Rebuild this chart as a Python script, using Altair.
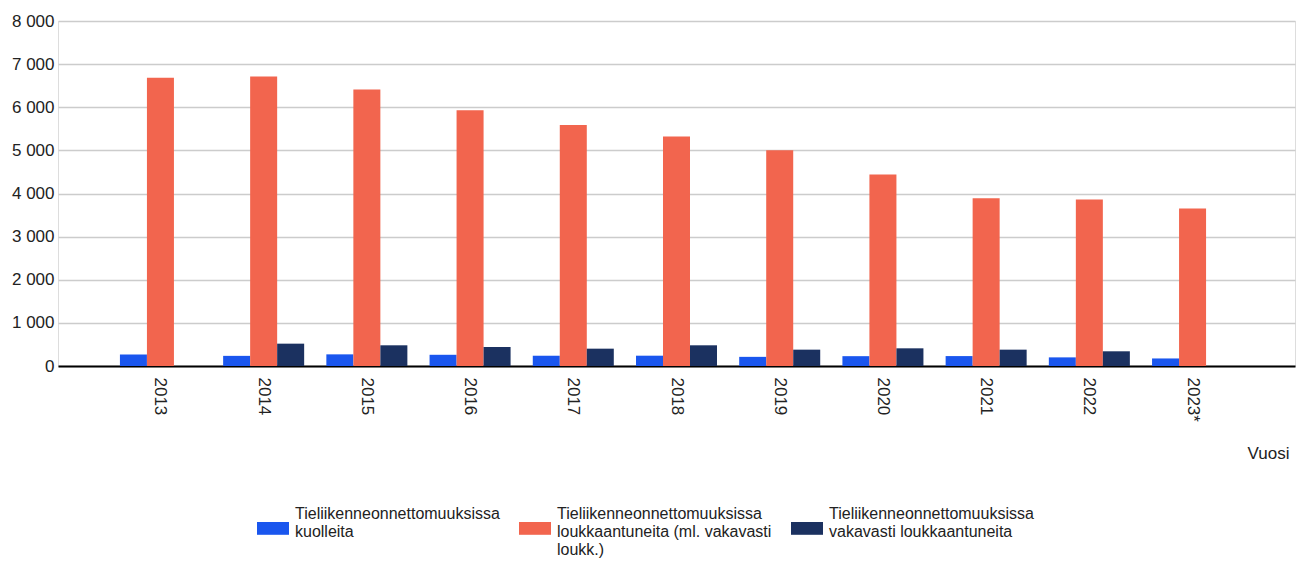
import altair as alt
import pandas as pd

years = ["2013", "2014", "2015", "2016", "2017", "2018", "2019", "2020", "2021", "2022", "2023*"]
killed = [265, 235, 270, 260, 238, 239, 212, 228, 230, 200, 175]
injured = [6683, 6713, 6411, 5932, 5591, 5320, 5004, 4439, 3890, 3858, 3650]
serious = [None, 518, 480, 441, 402, 480, 379, 410, 379, 341, None]

series = [
    "Tieliikenneonnettomuuksissa kuolleita",
    "Tieliikenneonnettomuuksissa loukkaantuneita (ml. vakavasti loukk.)",
    "Tieliikenneonnettomuuksissa vakavasti loukkaantuneita",
]
series_lines = [
    ["Tieliikenneonnettomuuksissa", "kuolleita", ""],
    ["Tieliikenneonnettomuuksissa", "loukkaantuneita (ml. vakavasti", "loukk.)"],
    ["Tieliikenneonnettomuuksissa", "vakavasti loukkaantuneita", ""],
]
colors = ["#1a56ee", "#f2654e", "#1b3160"]

rows = []
for i, yr in enumerate(years):
    for s, vals in zip(series, [killed, injured, serious]):
        if vals[i] is not None:
            rows.append({"year": yr, "series": s, "value": vals[i]})
df = pd.DataFrame(rows)

def arr(lines):
    return "[" + ",".join("'" + l + "'" for l in lines) + "]"

label_expr = (
    f"datum.label == '{series[0]}' ? {arr(series_lines[0])} : "
    f"datum.label == '{series[1]}' ? {arr(series_lines[1])} : {arr(series_lines[2])}"
)

FONT = "Arial, Liberation Sans, sans-serif"

chart = alt.Chart(df).mark_bar().encode(
    x=alt.X(
        "year:N",
        sort=years,
        scale=alt.Scale(domain=years, paddingInner=0.215, paddingOuter=0.6),
        axis=alt.Axis(
            title="Vuosi",
            labelAngle=90,
            labelAlign="left",
            labelBaseline="middle",
            labelPadding=11,
            ticks=False,
            domainColor="#000000",
            domainWidth=2,
            labelFontSize=17,
            labelColor="#222222",
            titleFontSize=17,
            titleFontWeight="normal",
            titleColor="#222222",
            titleX=1231,
            titleY=87,
            titleAlign="right",
            titleBaseline="middle",
            grid=False,
        ),
    ),
    xOffset=alt.XOffset("series:N", scale=alt.Scale(domain=series, paddingInner=0, paddingOuter=0)),
    y=alt.Y(
        "value:Q",
        scale=alt.Scale(domain=[0, 8000]),
        axis=alt.Axis(
            values=list(range(0, 8001, 1000)),
            labelExpr="replace(format(datum.value, ','), ',', ' ')",
            title=None,
            ticks=False,
            domain=False,
            gridColor="#cccccc",
            gridWidth=1.5,
            labelPadding=4,
            labelFontSize=17,
            labelColor="#222222",
        ),
    ),
    color=alt.Color(
        "series:N",
        scale=alt.Scale(domain=series, range=colors),
        legend=alt.Legend(
            title=None,
            orient="none",
            legendX=199,
            legendY=477,
            direction="horizontal",
            symbolType="M-1,0.5L1,0.5L1,1.3L-1,1.3Z",
            symbolSize=1024,
            symbolStrokeWidth=0,
            labelExpr=label_expr,
            labelLimit=400,
            labelFontSize=16,
            labelColor="#222222",
            labelBaseline="middle",
            columnPadding=19,
            labelOffset=6,
            padding=0,
        ),
    ),
).properties(
    width=1237,
    height=345,
    autosize=alt.AutoSizeParams(type="none"),
    padding={"left": 58, "top": 21, "right": 10, "bottom": 195},
).configure_view(stroke=None).configure(font=FONT)

chart.save("out.html", embed_options={"renderer": "svg", "actions": False})
